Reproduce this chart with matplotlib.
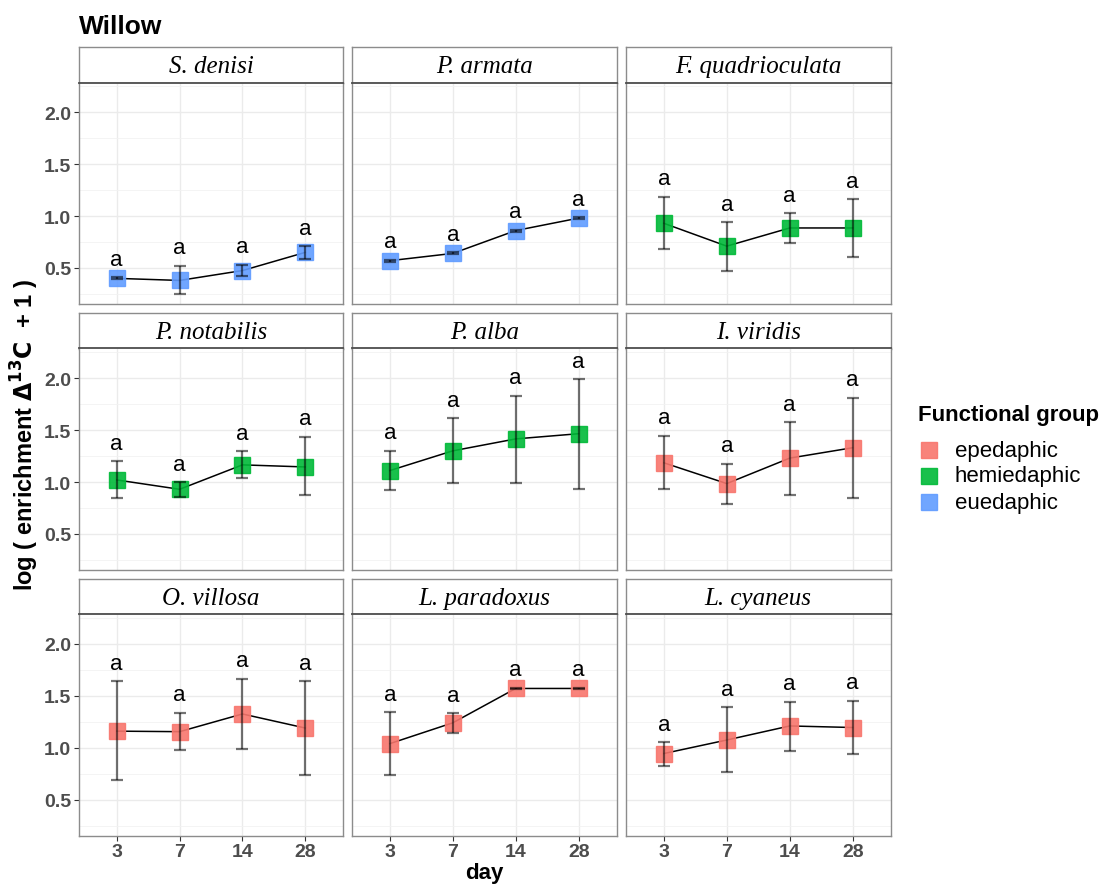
import numpy as np
import matplotlib
matplotlib.use("Agg")
import matplotlib.pyplot as plt
from matplotlib.lines import Line2D

plt.rcParams['font.family'] = ['Liberation Sans', 'DejaVu Sans']

#%%
# data
days = ['3', '7', '14', '28']
species = ['S. denisi', 'P. armata', 'F. quadrioculata',
           'P. notabilis', 'P. alba', 'I. viridis',
           'O. villosa', 'L. paradoxus', 'L. cyaneus']
group = ['euedaphic', 'euedaphic', 'hemiedaphic',
         'hemiedaphic', 'hemiedaphic', 'epedaphic',
         'epedaphic', 'epedaphic', 'epedaphic']

mean_s_denisi = [0.40, 0.38, 0.475, 0.65]
lo_s_denisi = [0.39, 0.25, 0.42, 0.59]
hi_s_denisi = [0.41, 0.52, 0.53, 0.71]

mean_p_armata = [0.57, 0.64, 0.86, 0.98]
lo_p_armata = [0.56, 0.63, 0.85, 0.97]
hi_p_armata = [0.58, 0.65, 0.87, 0.99]

mean_f_quadrioculata = [0.93, 0.71, 0.885, 0.885]
lo_f_quadrioculata = [0.68, 0.475, 0.745, 0.605]
hi_f_quadrioculata = [1.185, 0.94, 1.025, 1.16]

mean_p_notabilis = [1.02, 0.93, 1.165, 1.145]
lo_p_notabilis = [0.845, 0.86, 1.04, 0.875]
hi_p_notabilis = [1.20, 1.00, 1.295, 1.435]

mean_p_alba = [1.11, 1.30, 1.415, 1.465]
lo_p_alba = [0.925, 0.99, 0.995, 0.935]
hi_p_alba = [1.30, 1.615, 1.83, 1.99]

mean_i_viridis = [1.185, 0.985, 1.23, 1.33]
lo_i_viridis = [0.93, 0.79, 0.875, 0.845]
hi_i_viridis = [1.445, 1.175, 1.575, 1.81]

mean_o_villosa = [1.16, 1.155, 1.325, 1.19]
lo_o_villosa = [0.69, 0.98, 0.99, 0.74]
hi_o_villosa = [1.64, 1.335, 1.665, 1.64]

mean_l_paradoxus = [1.04, 1.24, 1.57, 1.57]
lo_l_paradoxus = [0.74, 1.145, 1.565, 1.565]
hi_l_paradoxus = [1.34, 1.33, 1.575, 1.575]

mean_l_cyaneus = [0.945, 1.075, 1.21, 1.195]
lo_l_cyaneus = [0.83, 0.765, 0.97, 0.945]
hi_l_cyaneus = [1.055, 1.39, 1.44, 1.45]

letters = ['a', 'a', 'a', 'a']

means = [mean_s_denisi, mean_p_armata, mean_f_quadrioculata,
         mean_p_notabilis, mean_p_alba, mean_i_viridis,
         mean_o_villosa, mean_l_paradoxus, mean_l_cyaneus]
lows = [lo_s_denisi, lo_p_armata, lo_f_quadrioculata,
        lo_p_notabilis, lo_p_alba, lo_i_viridis,
        lo_o_villosa, lo_l_paradoxus, lo_l_cyaneus]
highs = [hi_s_denisi, hi_p_armata, hi_f_quadrioculata,
         hi_p_notabilis, hi_p_alba, hi_i_viridis,
         hi_o_villosa, hi_l_paradoxus, hi_l_cyaneus]

group_order = ['epedaphic', 'hemiedaphic', 'euedaphic']
group_col = {'epedaphic': '#F8766D', 'hemiedaphic': '#00BA38', 'euedaphic': '#619CFF'}

#%%
W, H = 1105, 887
fig = plt.figure(figsize=(W / 100, H / 100), dpi=100)

def add_px_axes(x0, y0, x1, y1):
    return fig.add_axes([x0 / W, 1 - y1 / H, (x1 - x0) / W, (y1 - y0) / H])

cols = [(79, 343), (352, 616.5), (626, 890.5)]
rows = [(48, 83.5, 304.5), (314, 349.5, 570.5), (580, 615, 836.5)]

xpos = np.arange(1, len(days) + 1)

for i, sp in enumerate(species):
    r, c = divmod(i, 3)
    x0, x1 = cols[c]
    ys, yp, yb = rows[r]

    # strip
    sax = add_px_axes(x0, ys, x1, yp)
    sax.set_xticks([])
    sax.set_yticks([])
    for s in sax.spines.values():
        s.set_color('#8c8c8c')
        s.set_linewidth(1.0)
    sax.text(0.5, 0.47, sp, transform=sax.transAxes, ha='center', va='center',
             fontsize=18, fontstyle='italic', family='Liberation Serif')

    ax = add_px_axes(x0, yp, x1, yb)
    ax.set_xlim(0.4, 4.6)
    ax.set_ylim(0.158, 2.285)
    ax.set_yticks([0.5, 1.0, 1.5, 2.0])
    ax.set_yticks([0.25, 0.75, 1.25, 1.75, 2.25], minor=True)
    ax.set_xticks(xpos)
    ax.grid(True, which='major', color='#ebebeb', lw=1.0, zorder=0)
    ax.grid(True, which='minor', axis='y', color='#f2f2f2', lw=0.6, zorder=0)
    ax.set_axisbelow(True)
    for s in ax.spines.values():
        s.set_color('#8c8c8c')
        s.set_linewidth(1.0)
    ax.spines['top'].set_color('#4d4d4d')
    ax.spines['top'].set_linewidth(1.3)
    ax.tick_params(which='minor', length=0)

    if c == 0:
        ax.set_yticklabels(['0.5', '1.0', '1.5', '2.0'], fontweight='bold')
        ax.tick_params(axis='y', length=3.5, width=0.8, color='#333333',
                       labelcolor='#4d4d4d', labelsize=14, pad=2)
    else:
        ax.tick_params(axis='y', length=0, labelleft=False)
    if r == 2:
        ax.set_xticklabels(days, fontweight='bold')
        ax.tick_params(axis='x', length=3.5, width=0.8, color='#333333',
                       labelcolor='#4d4d4d', labelsize=14, pad=2)
    else:
        ax.tick_params(axis='x', length=0, labelbottom=False)

    m = np.array(means[i])
    lo = np.array(lows[i])
    hi = np.array(highs[i])
    col = group_col[group[i]]

    ax.plot(xpos, m, color='black', lw=1.1, zorder=2)
    ax.plot(xpos, m, ls='none', marker='s', ms=11, mfc=col, mec=col,
            alpha=0.9, zorder=3)
    ax.errorbar(xpos, m, yerr=[m - lo, hi - m], fmt='none', ecolor='black',
                elinewidth=1.6, capsize=4.5, capthick=1.6, alpha=0.55, zorder=4)
    for xx, yy, lab in zip(xpos, hi, letters):
        ax.text(xx, yy + 0.12, lab, ha='center', va='baseline', fontsize=16, zorder=5)

#%%
fig.text(79 / W, 1 - 27 / H, 'Willow', fontsize=19, fontweight='bold',
         ha='left', va='center')
fig.text(484 / W, 1 - 874 / H, 'day', fontsize=16, fontweight='bold',
         ha='center', va='center')
fig.text(25 / W, 1 - 435 / H, r'log ( enrichment $\mathbf{\Delta^{13}C}$  + 1 )',
         fontsize=17, fontweight='bold', rotation=90, ha='center', va='center')

# legend drawn by hand
fig.text(918 / W, 1 - 416 / H, 'Functional group', fontsize=16, fontweight='bold',
         ha='left', va='center')
for k, g in enumerate(group_order):
    yy = 1 - (451 + 26 * k) / H
    fig.add_artist(Line2D([929 / W], [yy], ls='none', marker='s', ms=11,
                          mfc=group_col[g], mec=group_col[g], alpha=0.9,
                          transform=fig.transFigure))
    fig.text(955 / W, yy, g, fontsize=16, ha='left', va='center')

fig.savefig('out.png', dpi=100)
